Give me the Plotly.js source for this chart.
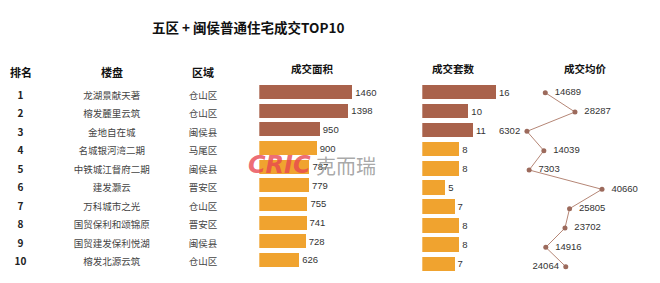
<!DOCTYPE html>
<html>
<head>
<meta charset="utf-8">
<script src="https://cdn.plot.ly/plotly-3.0.1.min.js"></script>
<style>html,body{margin:0;padding:0;background:#fff}#chart{width:660px;height:283px}</style>
</head>
<body>
<div id="chart"></div>
<script>
// ---- data ----
const ranks = [1, 2, 3, 4, 5, 6, 7, 8, 9, 10];
const projects = ['龙湖景献天著', '榕发麓里云筑', '金地自在城', '名城银河湾二期', '中铁城江督府二期', '建发灏云', '万科城市之光', '国贸保利和颂锦原', '国贸建发保利悦湖', '榕发北源云筑'];
const districts = ['仓山区', '仓山区', '闽侯县', '马尾区', '闽侯县', '晋安区', '仓山区', '晋安区', '闽侯县', '仓山区'];
const dealArea = [1460, 1398, 950, 900, 787, 779, 755, 741, 728, 626];
const dealUnits = [16, 10, 11, 8, 8, 5, 7, 8, 8, 7];
const avgPrice = [14689, 28287, 6302, 14039, 7303, 40660, 25805, 23702, 14916, 24064];
const columnHeaders = ['排名', '楼盘', '区域'];
const chartHeaders = ['成交面积', '成交套数', '成交均价'];
const title = '五区 + 闽侯普通住宅成交TOP10';

// ---- styles ----
const BROWN = '#A9624B', ORANGE = '#F0A32F';
const barColors = ranks.map(r => r <= 3 ? BROWN : ORANGE);
const CJK = '"Noto Sans CJK SC", "Noto Sans", sans-serif';
const NUM = '"Liberation Sans", Arial, sans-serif';
const priceTextPos = ['middle right', 'middle right', 'middle left', 'middle right', 'middle right', 'middle right', 'middle right', 'middle right', 'middle right', 'middle left'];

const traces = [
  // table
  {type: 'scatter', mode: 'text', x: ranks.map(() => columnHeaders[0]), y: ranks, text: ranks.map(String),
   textfont: {family: CJK, size: 10, color: '#222', weight: 'bold'}, xaxis: 'x4', yaxis: 'y4', hoverinfo: 'skip', cliponaxis: false},
  {type: 'scatter', mode: 'text', x: ranks.map(() => columnHeaders[1]), y: ranks, text: projects,
   textfont: {family: CJK, size: 9.5, color: '#444'}, xaxis: 'x4', yaxis: 'y4', hoverinfo: 'skip', cliponaxis: false},
  {type: 'scatter', mode: 'text', x: ranks.map(() => columnHeaders[2]), y: ranks, text: districts,
   textfont: {family: CJK, size: 9.5, color: '#444'}, xaxis: 'x4', yaxis: 'y4', hoverinfo: 'skip', cliponaxis: false},
  // area bars
  {type: 'bar', orientation: 'h', x: dealArea, y: ranks, width: 0.75, marker: {color: barColors},
   text: dealArea.map(String), textposition: 'outside', textfont: {family: NUM, size: 9.5, color: '#333'},
   cliponaxis: false, xaxis: 'x', yaxis: 'y'},
  // unit bars
  {type: 'bar', orientation: 'h', x: dealUnits, y: ranks, width: 0.75, marker: {color: barColors},
   text: dealUnits.map(String), textposition: 'outside', textfont: {family: NUM, size: 9.5, color: '#333'},
   cliponaxis: false, xaxis: 'x2', yaxis: 'y2'},
  // price line
  {type: 'scatter', mode: 'lines+markers+text', x: avgPrice, y: ranks,
   line: {color: '#B58676', width: 1}, marker: {color: '#9C6A5C', size: 5},
   text: avgPrice.map(v => '  ' + v + ' '), textposition: priceTextPos, textfont: {family: NUM, size: 9.5, color: '#333'},
   cliponaxis: false, xaxis: 'x3', yaxis: 'y3'}
];

const hidden = {showgrid: false, zeroline: false, showticklabels: false, showline: false, ticks: '', fixedrange: true};
const W = 660, H = 283;
const fy = px => (H - px) / H;
const fx = px => px / W;

const layout = {
  width: W, height: H,
  margin: {l: 0, r: 0, t: 0, b: 0},
  paper_bgcolor: '#fff', plot_bgcolor: 'rgba(0,0,0,0)',
  showlegend: false,
  bargap: 0,
  xaxis: Object.assign({}, hidden, {domain: [fx(259.3), fx(367.6)], range: [0, 1700]}),
  yaxis: Object.assign({}, hidden, {domain: [fy(269.3), fy(82.7)], range: [10.5, 0.5]}),
  xaxis2: Object.assign({}, hidden, {domain: [fx(422.3), fx(509.8)], range: [0, 19], anchor: 'y2'}),
  yaxis2: Object.assign({}, hidden, {domain: [fy(273.2), fy(82.65)], range: [10.5, 0.5], anchor: 'x2'}),
  xaxis3: Object.assign({}, hidden, {domain: [fx(513.2), fx(622.4)], range: [0, 50000], anchor: 'y3'}),
  yaxis3: Object.assign({}, hidden, {domain: [fy(276.3), fy(83)], range: [10.5, 0.5], anchor: 'x3'}),
  xaxis4: Object.assign({}, hidden, {domain: [0, fx(250.8)], type: 'category', categoryorder: 'array', categoryarray: columnHeaders, range: [-0.2245, 2.5225], anchor: 'y4'}),
  yaxis4: Object.assign({}, hidden, {domain: [fy(271.9), fy(87.3)], range: [10.5, 0.5], anchor: 'x4'}),
  annotations: [
    {text: title, xref: 'paper', yref: 'paper', x: fx(248.3), y: fy(27.3), xanchor: 'center', yanchor: 'middle', showarrow: false,
     font: {family: CJK, size: 13.5, color: '#111', weight: 'bold'}},
    ...columnHeaders.map(h => ({text: h, xref: 'x4', yref: 'paper', x: h, y: fy(71.7), xanchor: 'center', yanchor: 'middle', showarrow: false,
     font: {family: CJK, size: 11, color: '#111', weight: 'bold'}})),
    ...chartHeaders.map((h, i) => ({text: h, xref: 'paper', yref: 'paper', x: fx([312.3, 453.3, 585][i]), y: fy(68.3), xanchor: 'center', yanchor: 'middle', showarrow: false,
     font: {family: CJK, size: 10.5, color: '#111', weight: 'bold'}})),
    // watermark
    {text: '<i><b>CRIC</b></i>', xref: 'paper', yref: 'paper', x: fx(246), y: fy(165.5), xanchor: 'left', yanchor: 'middle', showarrow: false,
     font: {family: '"DejaVu Sans", sans-serif', size: 24, color: 'rgba(232,70,80,0.8)'}},
    {text: '克而瑞', xref: 'paper', yref: 'paper', x: fx(314), y: fy(165.5), xanchor: 'left', yanchor: 'middle', showarrow: false,
     font: {family: CJK, size: 20, color: 'rgba(130,130,130,0.7)'}}
  ]
};

Plotly.newPlot('chart', traces, layout, {staticPlot: true, displayModeBar: false});
</script>
</body>
</html>
